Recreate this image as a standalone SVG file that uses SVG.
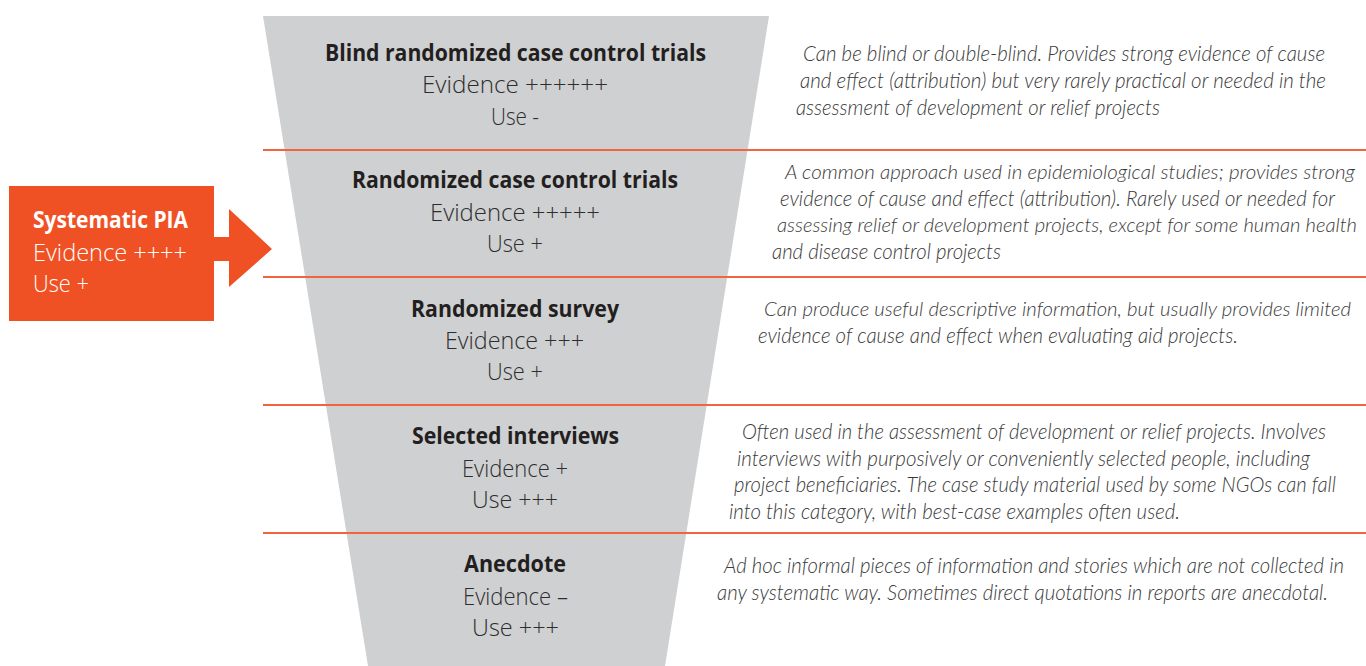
<svg xmlns="http://www.w3.org/2000/svg" width="1366" height="666" viewBox="0 0 1366 666">
<style>
.t{font-family:"Open Sans","Noto Sans","Liberation Sans",sans-serif;font-size:24px;text-anchor:middle}
.b{font-weight:700;fill:#231f20}
.l{font-weight:300;fill:#2d2d2d}
.w{font-family:"Open Sans","Noto Sans","Liberation Sans",sans-serif;font-size:24px;fill:#ffffff}
.d{font-family:Lato,"Open Sans","Liberation Sans",sans-serif;font-size:21px;font-style:italic;font-weight:300;fill:#3a3a3a}
.n{font-size:19px}
.sep{stroke:#f0643e;stroke-width:2;fill:none}
</style>
<rect width="1366" height="666" fill="#ffffff"/>
<g id="funnel">
<polygon points="263,16 769,16 665,666 368,666" fill="#cfd0d2"/>
</g>
<g id="connectors">
<line class="sep" x1="263" y1="150" x2="1366" y2="150"/>
<line class="sep" x1="263" y1="277" x2="1366" y2="277"/>
<line class="sep" x1="263" y1="405" x2="1366" y2="405"/>
<line class="sep" x1="263" y1="533" x2="1366" y2="533"/>
</g>
<g id="systematic-pia">
<rect x="9" y="186" width="205" height="135" fill="#f05124"/>
<polygon points="212,237 229,237 229,209 272,249 229,287 229,261 212,261" fill="#f05124"/>
<text class="w" x="33" y="228" font-weight="700" textLength="155" lengthAdjust="spacingAndGlyphs">Systematic PIA</text>
<text class="w" x="33" y="261" font-weight="300" textLength="154" lengthAdjust="spacingAndGlyphs">Evidence ++++</text>
<text class="w" x="33" y="292" font-weight="300" textLength="56" lengthAdjust="spacingAndGlyphs">Use +</text>
</g>
<g id="level-blind">
<text class="t b" x="515.5" y="61" textLength="381" lengthAdjust="spacingAndGlyphs">Blind randomized case control trials</text>
<text class="t l" x="515" y="93" textLength="186" lengthAdjust="spacingAndGlyphs">Evidence ++++++</text>
<text class="t l" x="515" y="125" textLength="48" lengthAdjust="spacingAndGlyphs">Use -</text>
<text class="d" x="803" y="61" textLength="522" lengthAdjust="spacingAndGlyphs">Can be blind or double-blind. Provides strong evidence of cause</text>
<text class="d" x="800" y="88" textLength="526" lengthAdjust="spacingAndGlyphs">and effect (attribution) but very rarely practical or needed in the</text>
<text class="d" x="796" y="115" textLength="364" lengthAdjust="spacingAndGlyphs">assessment of development or relief projects</text>
</g>
<g id="level-rct">
<text class="t b" x="515" y="188" textLength="326" lengthAdjust="spacingAndGlyphs">Randomized case control trials</text>
<text class="t l" x="515" y="221" textLength="170" lengthAdjust="spacingAndGlyphs">Evidence +++++</text>
<text class="t l" x="515" y="252" textLength="56" lengthAdjust="spacingAndGlyphs">Use +</text>
<text class="d n" x="785" y="179" textLength="570" lengthAdjust="spacingAndGlyphs">A common approach used in epidemiological studies; provides strong</text>
<text class="d" x="780" y="206" textLength="555" lengthAdjust="spacingAndGlyphs">evidence of cause and effect (attribution). Rarely used or needed for</text>
<text class="d n" x="777" y="232" textLength="580" lengthAdjust="spacingAndGlyphs">assessing relief or development projects, except for some human health</text>
<text class="d" x="772" y="259" textLength="229" lengthAdjust="spacingAndGlyphs">and disease control projects</text>
</g>
<g id="level-survey">
<text class="t b" x="515" y="317" textLength="208" lengthAdjust="spacingAndGlyphs">Randomized survey</text>
<text class="t l" x="514.5" y="349" textLength="139" lengthAdjust="spacingAndGlyphs">Evidence +++</text>
<text class="t l" x="515" y="380" textLength="56" lengthAdjust="spacingAndGlyphs">Use +</text>
<text class="d n" x="764" y="316" textLength="587" lengthAdjust="spacingAndGlyphs">Can produce useful descriptive information, but usually provides limited</text>
<text class="d" x="758" y="343" textLength="480" lengthAdjust="spacingAndGlyphs">evidence of cause and effect when evaluating aid projects.</text>
</g>
<g id="level-interviews">
<text class="t b" x="515.5" y="444" textLength="207" lengthAdjust="spacingAndGlyphs">Selected interviews</text>
<text class="t l" x="515" y="477" textLength="106" lengthAdjust="spacingAndGlyphs">Evidence +</text>
<text class="t l" x="515" y="508" textLength="86" lengthAdjust="spacingAndGlyphs">Use +++</text>
<text class="d" x="742" y="439" textLength="584" lengthAdjust="spacingAndGlyphs">Often used in the assessment of development or relief projects. Involves</text>
<text class="d" x="737" y="466" textLength="573" lengthAdjust="spacingAndGlyphs">interviews with purposively or conveniently selected people, including</text>
<text class="d" x="734" y="492" textLength="602" lengthAdjust="spacingAndGlyphs">project beneficiaries. The case study material used by some NGOs can fall</text>
<text class="d" x="729" y="519" textLength="451" lengthAdjust="spacingAndGlyphs">into this category, with best-case examples often used.</text>
</g>
<g id="level-anecdote">
<text class="t b" x="515" y="572" textLength="102" lengthAdjust="spacingAndGlyphs">Anecdote</text>
<text class="t l" x="515.5" y="605" textLength="105" lengthAdjust="spacingAndGlyphs">Evidence –</text>
<text class="t l" x="515.5" y="636" textLength="87" lengthAdjust="spacingAndGlyphs">Use +++</text>
<text class="d" x="724" y="573" textLength="620" lengthAdjust="spacingAndGlyphs">Ad hoc informal pieces of information and stories which are not collected in</text>
<text class="d" x="717" y="600" textLength="611" lengthAdjust="spacingAndGlyphs">any systematic way. Sometimes direct quotations in reports are anecdotal.</text>
</g>
</svg>
